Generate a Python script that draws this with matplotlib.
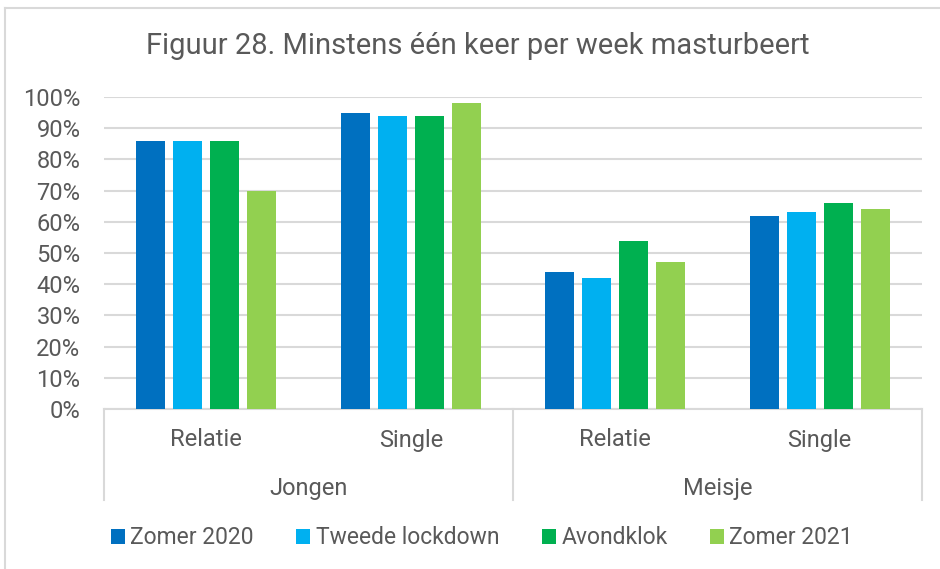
import matplotlib.pyplot as plt
import matplotlib.transforms as mtransforms
import numpy as np

plt.rcParams['font.family'] = ['Roboto', 'DejaVu Sans']

# data
subgroups = ['Relatie', 'Single', 'Relatie', 'Single']
groups = ['Jongen', 'Meisje']
series_names = ['Zomer 2020', 'Tweede lockdown', 'Avondklok', 'Zomer 2021']
zomer_2020 = [86, 95, 44, 62]
tweede_lockdown = [86, 94, 42, 63]
avondklok = [86, 94, 54, 66]
zomer_2021 = [70, 98, 47, 64]
colors = ['#0070C0', '#00B0F0', '#00B050', '#92D050']
title = 'Figuur 28. Minstens één keer per week masturbeert'

W, H = 940, 569
fig = plt.figure(figsize=(W / 100, H / 100), dpi=100)
ax = fig.add_axes([104 / W, (H - 409) / H, (922 - 104) / W, (409 - 97) / H])

txt = '#595959'
grid = '#D9D9D9'

x = np.arange(len(subgroups))
step = 0.181
width = 0.142
all_series = [zomer_2020, tweede_lockdown, avondklok, zomer_2021]
for i, (vals, name, c) in enumerate(zip(all_series, series_names, colors)):
    ax.bar(x + (i - 1.5) * step, vals, width, color=c, label=name, zorder=3)

ax.set_xlim(-0.5, len(subgroups) - 0.5)
ax.set_ylim(0, 100)
ax.set_yticks(range(0, 101, 10))
ax.set_yticklabels([f'{v}%' for v in range(0, 101, 10)], fontsize=17, color=txt)
ax.tick_params(axis='y', length=0, pad=17)
ax.set_xticks([])
ax.grid(axis='y', color=grid, linewidth=1.5, zorder=0)
for s in ['top', 'right', 'left']:
    ax.spines[s].set_visible(False)
ax.spines['bottom'].set_color(grid)
ax.spines['bottom'].set_linewidth(1.5)

# two-level category axis
tr = mtransforms.blended_transform_factory(ax.transData, fig.transFigure)
for xi, lab in zip(x, subgroups):
    ax.text(xi, (H - 440) / H, lab, transform=tr, ha='center', va='center',
            fontsize=17, color=txt)
for gi, g in enumerate(groups):
    ax.text(gi * 2 + 0.5, (H - 488) / H, g, transform=tr, ha='center', va='center',
            fontsize=17, color=txt)
for xs in [-0.5, 1.5, 3.5]:
    ax.plot([xs, xs], [(H - 409) / H, (H - 500) / H], transform=tr, color=grid,
            linewidth=1.5, clip_on=False)

fig.text(478 / W, (H - 46) / H, title, ha='center', va='center', fontsize=21, color=txt)

fig.legend(loc='center', bbox_to_anchor=(482 / W, (H - 538) / H), ncol=4, frameon=False,
           fontsize=16.5, labelcolor=txt, handlelength=0.6, handleheight=0.6,
           handletextpad=0.25, columnspacing=1.85)

# chart frame
fig.add_artist(plt.Line2D([5 / W, 5 / W], [0, (H - 8) / H], color=grid, linewidth=1.5,
                          transform=fig.transFigure))
fig.add_artist(plt.Line2D([5 / W, 1], [(H - 8) / H, (H - 8) / H], color=grid, linewidth=1.5,
                          transform=fig.transFigure))

fig.savefig('out.png', dpi=100)
